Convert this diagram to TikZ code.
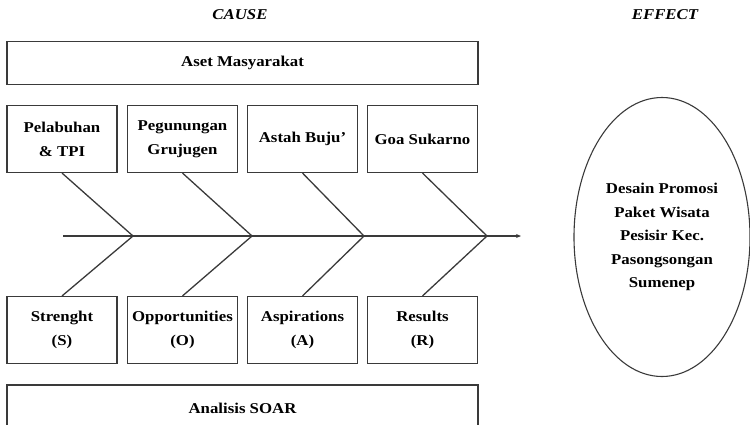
\documentclass[tikz,border=0pt]{standalone}
\usepackage{fontspec}
\setmainfont{Liberation Serif}[FakeStretch=1.12]
\usetikzlibrary{arrows.meta,shapes.geometric}
\definecolor{edge}{HTML}{3A3A3A}
\tikzset{
  wide/.style={draw=edge, line width=1.1pt, minimum width=471pt, minimum height=43pt, inner sep=0pt, font=\fontsize{15}{24}\selectfont\bfseries},
  cell/.style={draw=edge, line width=1.1pt, minimum width=110pt, minimum height=67pt, inner sep=0pt, align=center, font=\fontsize{15}{24}\selectfont\bfseries},
  bone/.style={draw=edge, line width=1.3pt},
  head/.style={font=\fontsize{15}{18}\selectfont\bfseries\itshape}
}
\begin{document}
\begin{tikzpicture}[x=1pt,y=-1pt]
\useasboundingbox (0,0) rectangle (750,424);
\clip (0,0) rectangle (750,424);
\node[head] (cause) at (240,15) {CAUSE};
\node[head] (effect) at (665,15) {EFFECT};
\node[wide] (aset) at (242.5,63) {Aset Masyarakat};
\node[cell] (t1) at (62,139) {Pelabuhan\\\& TPI};
\node[cell] (t2) at (182.5,139) {Pegunungan\\Grujugen};
\node[cell] (t3) at (302.5,139) {Astah Buju'};
\node[cell] (t4) at (422.5,139) {Goa Sukarno};
\node[cell] (b1) at (62,330) {Strenght\\(S)};
\node[cell] (b2) at (182.5,330) {Opportunities\\(O)};
\node[cell] (b3) at (302.5,330) {Aspirations\\(A)};
\node[cell] (b4) at (422.5,330) {Results\\(R)};
\draw[draw=edge, line width=1.1pt] (7,430) -- (7,385) -- (478,385) -- (478,430);
\node[font=\fontsize{15}{18}\selectfont\bfseries] (soar) at (242.5,408) {Analisis SOAR};
\node[draw=edge, line width=1.1pt, ellipse, minimum width=176pt, minimum height=279pt, inner sep=0pt, align=center, font=\fontsize{15}{23.5}\selectfont\bfseries] (eff) at (662,237) {Desain Promosi\\Paket Wisata\\Pesisir Kec.\\Pasongsongan\\Sumenep};
\coordinate (s0) at (63,236);
\coordinate (j1) at (133,236);
\coordinate (j2) at (252,236);
\coordinate (j3) at (364,236);
\coordinate (j4) at (487,236);
\coordinate (s5) at (521,236);
\draw[draw=edge, line width=1.8pt] (s0) -- (j4);
\draw[draw=edge, line width=1.2pt, -{Stealth[length=5pt,width=4pt]}] (j4) -- (s5);
\draw[bone] (t1.south) -- (j1) -- (b1.north);
\draw[bone] (t2.south) -- (j2) -- (b2.north);
\draw[bone] (t3.south) -- (j3) -- (b3.north);
\draw[bone] (t4.south) -- (j4) -- (b4.north);
\end{tikzpicture}
\end{document}
